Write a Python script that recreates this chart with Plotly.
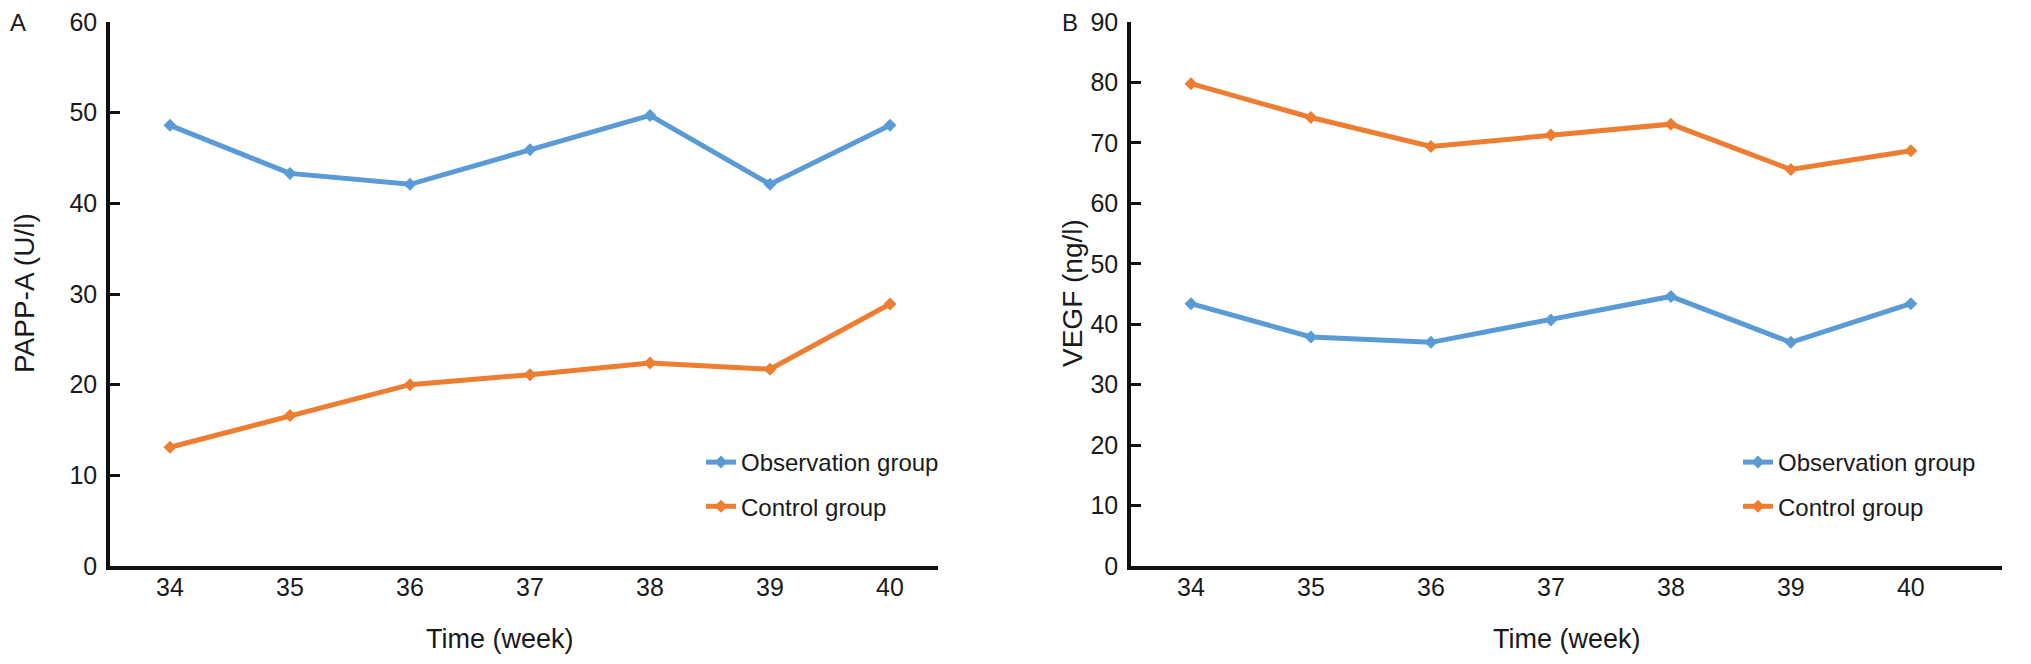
import plotly.graph_objects as go

weeks = [34, 35, 36, 37, 38, 39, 40]
papp_observation = [48.6, 43.3, 42.1, 45.9, 49.7, 42.1, 48.6]
papp_control = [13.1, 16.6, 20.0, 21.1, 22.4, 21.7, 28.9]
vegf_observation = [43.4, 37.9, 37.0, 40.7, 44.6, 37.0, 43.4]
vegf_control = [79.8, 74.2, 69.4, 71.3, 73.1, 65.6, 68.7]
series_names = ["Observation group", "Control group"]
left_yticks = [0, 10, 20, 30, 40, 50, 60]
right_yticks = [0, 10, 20, 30, 40, 50, 60, 70, 80, 90]

BLUE = "#5B9BD5"
ORANGE = "#ED7D31"
FONT = "Liberation Sans, Arial, sans-serif"
TXT = "#1a1a1a"
W, H = 2031, 664
MT, MB = 14, 106
PH = H - MT - MB

def px(x):
    return x / W

def py(y):
    return (H - MB - y) / PH

fig = go.Figure()

def add_series(xa, ya, obs, ctl, leg):
    for name, vals, col in [(series_names[0], obs, BLUE), (series_names[1], ctl, ORANGE)]:
        fig.add_trace(go.Scatter(
            x=weeks, y=vals, name=name, mode="lines+markers",
            line=dict(color=col, width=5),
            marker=dict(symbol="diamond", size=10, color=col),
            xaxis=xa, yaxis=ya, legend=leg, legendgroup=leg + name,
        ))

add_series("x", "y", papp_observation, papp_control, "legend")
add_series("x2", "y2", vegf_observation, vegf_control, "legend2")

axis_common = dict(showgrid=False, zeroline=False, showline=True, linecolor="#111111",
                   linewidth=3.5, ticklabeloverflow="allow",
                   tickfont=dict(family=FONT, size=25, color=TXT))

fig.update_layout(
    width=W, height=H,
    margin=dict(l=0, r=0, t=MT, b=MB),
    paper_bgcolor="white", plot_bgcolor="white",
    font=dict(family=FONT, size=25, color=TXT),
    xaxis=dict(domain=[px(102), px(930)], range=[33.5, 40.4], tickvals=weeks,
               ticks="", anchor="y", ticklabelstandoff=-4, **axis_common),
    yaxis=dict(domain=[0, 1], range=[0, 60], tickvals=left_yticks, ticks="inside",
               ticklen=10, tickwidth=3, tickcolor="#111111", anchor="x",
               ticklabelstandoff=4, **axis_common),
    xaxis2=dict(domain=[px(1123), px(1994)], range=[33.5, 40.76], tickvals=weeks,
                ticks="", anchor="y2", ticklabelstandoff=-4, **axis_common),
    yaxis2=dict(domain=[0, 1], range=[0, 90], tickvals=right_yticks, ticks="inside",
                ticklen=10, tickwidth=3, tickcolor="#111111", anchor="x2",
                ticklabelstandoff=4, **axis_common),
    legend=dict(x=px(693), y=py(432), xanchor="left", yanchor="top",
                bgcolor="rgba(0,0,0,0)", font=dict(family=FONT, size=24, color=TXT),
                tracegroupgap=10, itemwidth=30),
    legend2=dict(x=px(1730), y=py(432), xanchor="left", yanchor="top",
                 bgcolor="rgba(0,0,0,0)", font=dict(family=FONT, size=24, color=TXT),
                 tracegroupgap=10, itemwidth=30),
    annotations=[
        dict(text="A", x=px(10), y=py(15), xref="paper", yref="paper", showarrow=False,
             xanchor="center", yanchor="middle", font=dict(family=FONT, size=24, color=TXT)),
        dict(text="B", x=px(1062), y=py(15), xref="paper", yref="paper", showarrow=False,
             xanchor="center", yanchor="middle", font=dict(family=FONT, size=24, color=TXT)),
        dict(text="PAPP-A (U/l)", x=px(16), y=py(285), xref="paper", yref="paper",
             showarrow=False, textangle=-90, xanchor="center", yanchor="middle",
             font=dict(family=FONT, size=28, color=TXT)),
        dict(text="VEGF (ng/l)", x=px(1064), y=py(285), xref="paper", yref="paper",
             showarrow=False, textangle=-90, xanchor="center", yanchor="middle",
             font=dict(family=FONT, size=28, color=TXT)),
        dict(text="Time (week)", x=px(492), y=py(631), xref="paper", yref="paper",
             showarrow=False, xanchor="center", yanchor="middle",
             font=dict(family=FONT, size=27, color=TXT)),
        dict(text="Time (week)", x=px(1559), y=py(631), xref="paper", yref="paper",
             showarrow=False, xanchor="center", yanchor="middle",
             font=dict(family=FONT, size=27, color=TXT)),
    ],
)

fig.write_html("out.html")
